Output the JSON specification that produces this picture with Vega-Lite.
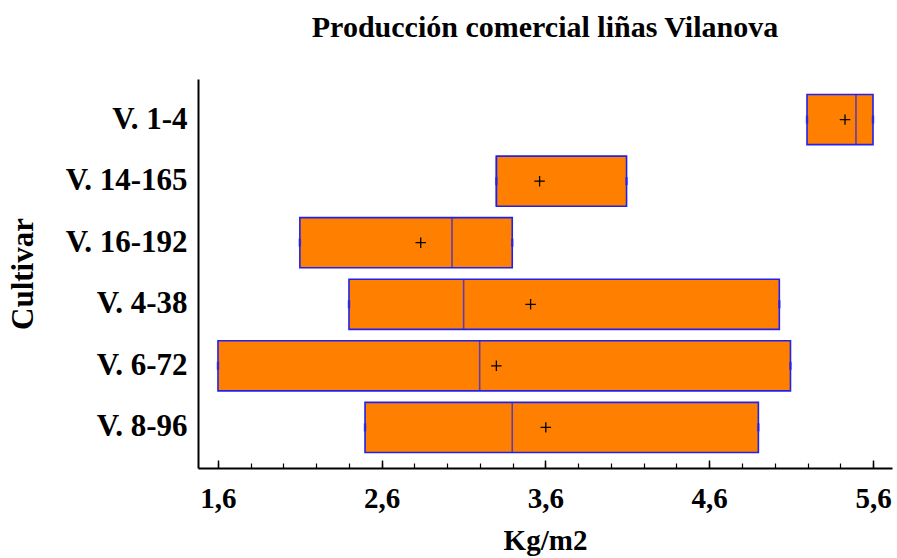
{
  "$schema": "https://vega.github.io/schema/vega-lite/v6.json",
  "width": 694,
  "height": 389,
  "autosize": {"type": "none"},
  "padding": {"left": 198, "top": 79, "right": 5, "bottom": 90},
  "background": "white",
  "config": {
    "view": {"stroke": null},
    "font": "Liberation Serif"
  },
  "title": {
    "text": "Producción comercial liñas Vilanova",
    "font": "Liberation Serif",
    "fontSize": 30,
    "fontWeight": "bold",
    "color": "black",
    "anchor": "middle",
    "baseline": "alphabetic",
    "offset": 12
  },
  "data": {
    "values": [
      {"cultivar": "V. 1-4", "min": 5.197, "q1": 5.197, "median": 5.496, "q3": 5.6, "max": 5.6, "mean": 5.429},
      {"cultivar": "V. 14-165", "min": 3.30, "q1": 3.30, "median": 3.30, "q3": 4.095, "max": 4.095, "mean": 3.564},
      {"cultivar": "V. 16-192", "min": 2.10, "q1": 2.10, "median": 3.029, "q3": 3.397, "max": 3.397, "mean": 2.838},
      {"cultivar": "V. 4-38", "min": 2.40, "q1": 2.40, "median": 3.10, "q3": 5.028, "max": 5.028, "mean": 3.509},
      {"cultivar": "V. 6-72", "min": 1.60, "q1": 1.60, "median": 3.198, "q3": 5.096, "max": 5.096, "mean": 3.30},
      {"cultivar": "V. 8-96", "min": 2.498, "q1": 2.498, "median": 3.397, "q3": 4.90, "max": 4.90, "mean": 3.602}
    ]
  },
  "encoding": {
    "y": {
      "field": "cultivar", "type": "nominal",
      "scale": {"paddingInner": 0.186, "paddingOuter": 0.253},
      "axis": {
        "title": "Cultivar",
        "titleFont": "Liberation Serif", "titleFontSize": 31, "titleFontWeight": "bold", "titleColor": "black",
        "titleAngle": 270, "titleX": -175, "titleY": 194.5, "titleAlign": "center", "titleBaseline": "middle",
        "labelFont": "Liberation Serif", "labelFontSize": 31, "labelFontWeight": "bold", "labelColor": "black",
        "labelPadding": 11, "ticks": false, "domainColor": "black", "domainWidth": 2, "grid": false
      }
    }
  },
  "resolve": {"axis": {"x": "independent"}},
  "layer": [
    {
      "mark": {"type": "bar", "fill": "#FF8000", "stroke": "#2020F0", "strokeWidth": 1.6},
      "encoding": {
        "x": {
          "field": "q1", "type": "quantitative",
          "scale": {"domain": [1.478, 5.716], "nice": false, "zero": false},
          "axis": {
            "orient": "bottom",
            "values": [1.6, 2.6, 3.6, 4.6, 5.6],
            "labelExpr": "replace(format(datum.value, '.1f'), '.', ',')",
            "labelFont": "Liberation Serif", "labelFontSize": 29, "labelFontWeight": "bold", "labelColor": "black",
            "labelBaseline": "alphabetic",
            "tickSize": -8, "tickColor": "black", "tickWidth": 1.5,
            "labelPadding": 47,
            "domainColor": "black", "domainWidth": 2, "grid": false,
            "title": "Kg/m2",
            "titleFont": "Liberation Serif", "titleFontSize": 29, "titleFontWeight": "bold", "titleColor": "black",
            "titlePadding": 13
          }
        },
        "x2": {"field": "q3"}
      }
    },
    {
      "mark": {"type": "tick", "color": "#2020F0", "thickness": 1.6, "size": 50},
      "encoding": {
        "x": {"field": "median", "type": "quantitative", "axis": null}
      }
    },
    {
      "mark": {"type": "tick", "color": "#2020F0", "thickness": 2.5, "size": 8},
      "encoding": {
        "x": {"field": "min", "type": "quantitative", "axis": null}
      }
    },
    {
      "mark": {"type": "tick", "color": "#2020F0", "thickness": 2.5, "size": 8},
      "encoding": {
        "x": {"field": "max", "type": "quantitative", "axis": null}
      }
    },
    {
      "mark": {"type": "point", "shape": "M-1,0L1,0M0,-1L0,1", "size": 110, "stroke": "black", "strokeWidth": 1.3, "filled": false, "opacity": 1},
      "encoding": {
        "x": {
          "field": "mean", "type": "quantitative",
          "axis": {
            "orient": "bottom",
            "values": [1.6, 1.8, 2.0, 2.2, 2.4, 2.6, 2.8, 3.0, 3.2, 3.4, 3.6, 3.8, 4.0, 4.2, 4.4, 4.6, 4.8, 5.0, 5.2, 5.4, 5.6],
            "labels": false, "domain": false, "grid": false, "title": null,
            "tickSize": -5, "tickColor": "black", "tickWidth": 1.2
          }
        }
      }
    }
  ]
}
